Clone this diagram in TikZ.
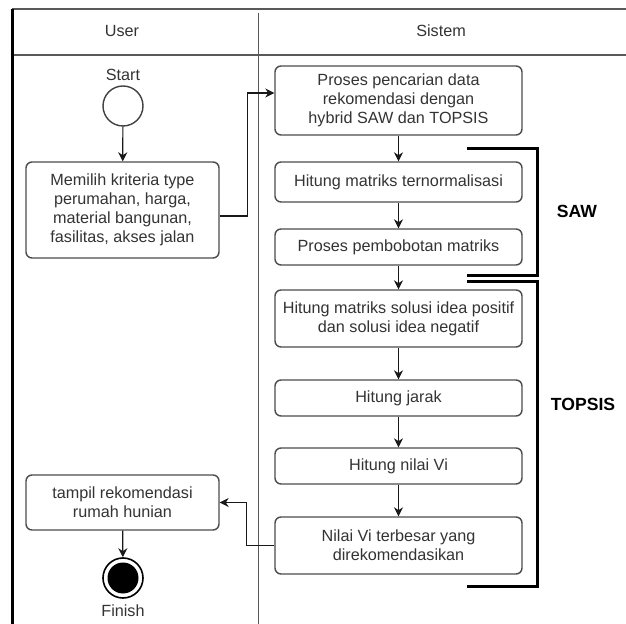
\documentclass[tikz,border=0pt]{standalone}
\usepackage{fontspec}
\setmainfont{Liberation Sans}
\usetikzlibrary{arrows.meta,positioning}
\tikzset{>={Stealth[length=4.5pt,width=4.5pt]}}
\tikzset{
  act/.style={draw=black!70,line width=0.7pt,rounded corners=3pt,align=center,text=black!80,inner sep=0pt,font=\fontsize{8.1}{9.6}\selectfont},
  sysact/.style={act,minimum width=123.5pt},
  usract/.style={act,minimum width=96.5pt},
  flow/.style={->,line width=0.6pt,black!90},
  lane/.style={draw=black!65,line width=0.6pt},
  brack/.style={line width=1.5pt},
  lbl/.style={text=black!80,inner sep=0pt,font=\fontsize{8.1}{9.6}\selectfont},
  tag/.style={inner sep=0pt,font=\fontsize{8.8}{10}\selectfont\bfseries},
}

\begin{document}
\begin{tikzpicture}[x=0.5pt,y=-0.5pt]
\useasboundingbox (0,0) rectangle (626,624);
\draw[lane] (12,9) -- (626,9);
\draw[lane] (12,55) -- (626,55);
\draw[lane,line width=0.5pt] (258,13) -- (258,624);
\draw[line width=1.5pt] (12.5,9) -- (12.5,624);
\node[lbl] (user) at (122,31) {User};
\node[lbl] (sistem) at (441,31) {Sistem};

\node[draw=black!75,line width=0.7pt,circle,minimum size=20pt,inner sep=0pt] (start) at (123,106) {};
\node[lbl,above=2pt of start] (starttxt) {Start};
\node[usract,minimum height=48pt] (memilih) at (122.5,210) {Memilih kriteria type\\perumahan, harga,\\material bangunan,\\fasilitas, akses jalan};
\node[usract,minimum height=27.5pt] (tampil) at (122.5,502.5) {tampil rekomendasi\\rumah hunian};
\node[draw=black,line width=0.8pt,circle,minimum size=20pt,inner sep=0pt] (finish) at (123,578) {};
\node[circle,fill=black,minimum size=15.5pt,inner sep=0pt] (finishdot) at (finish) {};
\node[lbl,below=3pt of finish] (finishtxt) {Finish};

\node[sysact,minimum height=34.5pt] (proses) at (398.5,100.5) {Proses pencarian data\\rekomendasi dengan\\hybrid SAW dan TOPSIS};
\node[sysact,minimum height=20pt] (norm) at (398.5,182) {Hitung matriks ternormalisasi};
\node[sysact,minimum height=18pt] (bobot) at (398.5,247) {Proses pembobotan matriks};
\node[sysact,minimum height=28.5pt] (solusi) at (398.5,318.5) {Hitung matriks solusi idea positif\\dan solusi idea negatif};
\node[sysact,minimum height=18pt] (jarak) at (398.5,398) {Hitung jarak};
\node[sysact,minimum height=18pt] (nilai) at (398.5,466) {Hitung nilai Vi};
\node[sysact,minimum height=28.5pt] (terbesar) at (398.5,545.5) {Nilai Vi terbesar yang\\direkomendasikan};

\draw[flow] (start) -- (memilih);
\draw[flow] ([yshift=-3pt]memilih.east) -- ++(14pt,0) |- ([yshift=3.75pt]proses.west);
\draw[flow] (proses) -- (norm);
\draw[flow] (norm) -- (bobot);
\draw[flow] (bobot) -- (solusi);
\draw[flow] (solusi) -- (jarak);
\draw[flow] (jarak) -- (nilai);
\draw[flow] (nilai) -- (terbesar);
\draw[flow] (terbesar.west) -- ++(-14pt,0) |- (tampil.east);
\draw[flow] (tampil) -- (finish);

\draw[brack] (467,149) -- (537,149) -- (537,276) -- (467,276);
\draw[brack] (467,282) -- (537,282) -- (537,586) -- (467,586);
\node[tag] (saw) at (577,211) {SAW};
\node[tag] (topsis) at (583,404) {TOPSIS};
\end{tikzpicture}
\end{document}
